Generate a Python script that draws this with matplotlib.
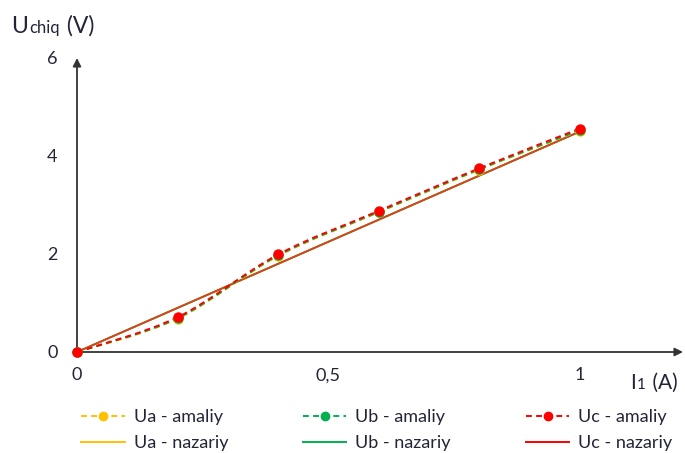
import numpy as np
import matplotlib.pyplot as plt
from matplotlib.path import Path
from matplotlib.patches import PathPatch
from matplotlib.lines import Line2D
from matplotlib.offsetbox import TextArea, HPacker, AnnotationBbox

plt.rcParams['font.family'] = ['Lato', 'DejaVu Sans']
TXT = '#232436'

# current I1 (A)
current = [0.0, 0.2, 0.4, 0.6, 0.8, 1.0]
# measured output voltage per phase (V)
ua_meas = [0.0, 0.68, 1.96, 2.85, 3.72, 4.52]
ub_meas = [0.0, 0.69, 1.97, 2.86, 3.73, 4.53]
uc_meas = [0.0, 0.71, 1.99, 2.88, 3.75, 4.56]
# theoretical output voltage (V)
ua_theory = [0.0, 0.9, 1.8, 2.7, 3.6, 4.5]
ub_theory = [0.0, 0.9, 1.8, 2.7, 3.6, 4.5]
uc_theory = [0.0, 0.9, 1.8, 2.7, 3.6, 4.5]

yellow, green, red = '#FFC000', '#00B050', '#FF0000'


def smooth_path(x, y):
    # Catmull-Rom style bezier through the points (like a spreadsheet "smoothed line")
    p = np.column_stack([x, y])
    n = len(p)
    verts = [p[0]]
    codes = [Path.MOVETO]
    for i in range(n - 1):
        p0 = p[i - 1] if i > 0 else p[i]
        p3 = p[i + 2] if i + 2 < n else p[i + 1]
        c1 = p[i] + (p[i + 1] - p0) / 6
        c2 = p[i + 1] - (p3 - p[i]) / 6
        verts += [c1, c2, p[i + 1]]
        codes += [Path.CURVE4] * 3
    return Path(verts, codes)


fig = plt.figure(figsize=(6.85, 4.53), dpi=100)
ax = fig.add_axes([77 / 685, 101 / 453, (683 - 77) / 685, (352 - 58) / 453])
ax.set_xlim(0, 1.205)
ax.set_ylim(0, 6)
for s in ax.spines.values():
    s.set_visible(False)

# axes drawn as arrows
arrow = dict(arrowstyle='-|>', color='#333333', lw=1.3, mutation_scale=12,
             shrinkA=0, shrinkB=0)
ax.annotate('', xy=(1, 0), xytext=(0, 0), xycoords='axes fraction', arrowprops=arrow)
ax.annotate('', xy=(0, 1), xytext=(0, 0), xycoords='axes fraction', arrowprops=arrow)

dash = (0, (3, 2.2))
for yv, c in [(ua_meas, yellow), (ub_meas, green), (uc_meas, red)]:
    ax.add_patch(PathPatch(smooth_path(current, yv), fill=False, edgecolor=c,
                           lw=1.4, linestyle=dash, zorder=3))
    ax.plot(current, yv, 'o', color=c, ms=6.5, zorder=4, clip_on=False)

for yv, c in [(ua_theory, yellow), (ub_theory, green), (uc_theory, '#E0401F')]:
    ax.plot(current, yv, '-', color=c, lw=1.3, zorder=2)

ax.set_xticks([0, 0.5, 1])
ax.set_xticklabels(['0', '0,5', '1'])
ax.set_yticks([0, 2, 4, 6])
ax.tick_params(axis='both', length=0, labelsize=13, colors=TXT)
ax.tick_params(axis='x', pad=11)
ax.tick_params(axis='y', pad=14)


def stacked_label(parts, xy):
    boxes = [TextArea(t, textprops=dict(fontsize=fs, color=TXT)) for t, fs in parts]
    pack = HPacker(children=boxes, align='baseline', pad=0, sep=1)
    fig.add_artist(AnnotationBbox(pack, xy, xycoords='figure pixels',
                                  box_alignment=(0, 0), frameon=False))


stacked_label([('U', 16.5), ('chiq', 12), (' (V)', 16.5)], (11, 453 - 37))
stacked_label([('I', 15), ('1', 11), (' (A)', 15)], (630, 453 - 393))

handles = [
    Line2D([], [], color=yellow, lw=1.4, ls=dash, marker='o', ms=6),
    Line2D([], [], color=yellow, lw=1.4),
    Line2D([], [], color=green, lw=1.4, ls=dash, marker='o', ms=6),
    Line2D([], [], color=green, lw=1.4),
    Line2D([], [], color=red, lw=1.4, ls=dash, marker='o', ms=6),
    Line2D([], [], color=red, lw=1.4),
]
labels = ['Ua - amaliy', 'Ua - nazariy', 'Ub - amaliy', 'Ub - nazariy',
          'Uc - amaliy', 'Uc - nazariy']
leg = fig.legend(handles, labels, ncol=3, frameon=False, fontsize=13,
                 loc='upper left', bbox_to_anchor=(65 / 685, 1 - 393 / 453),
                 handlelength=2.4, handletextpad=0.5, columnspacing=4.15,
                 labelspacing=0.55, labelcolor=TXT)

fig.savefig('out.png', dpi=100)
